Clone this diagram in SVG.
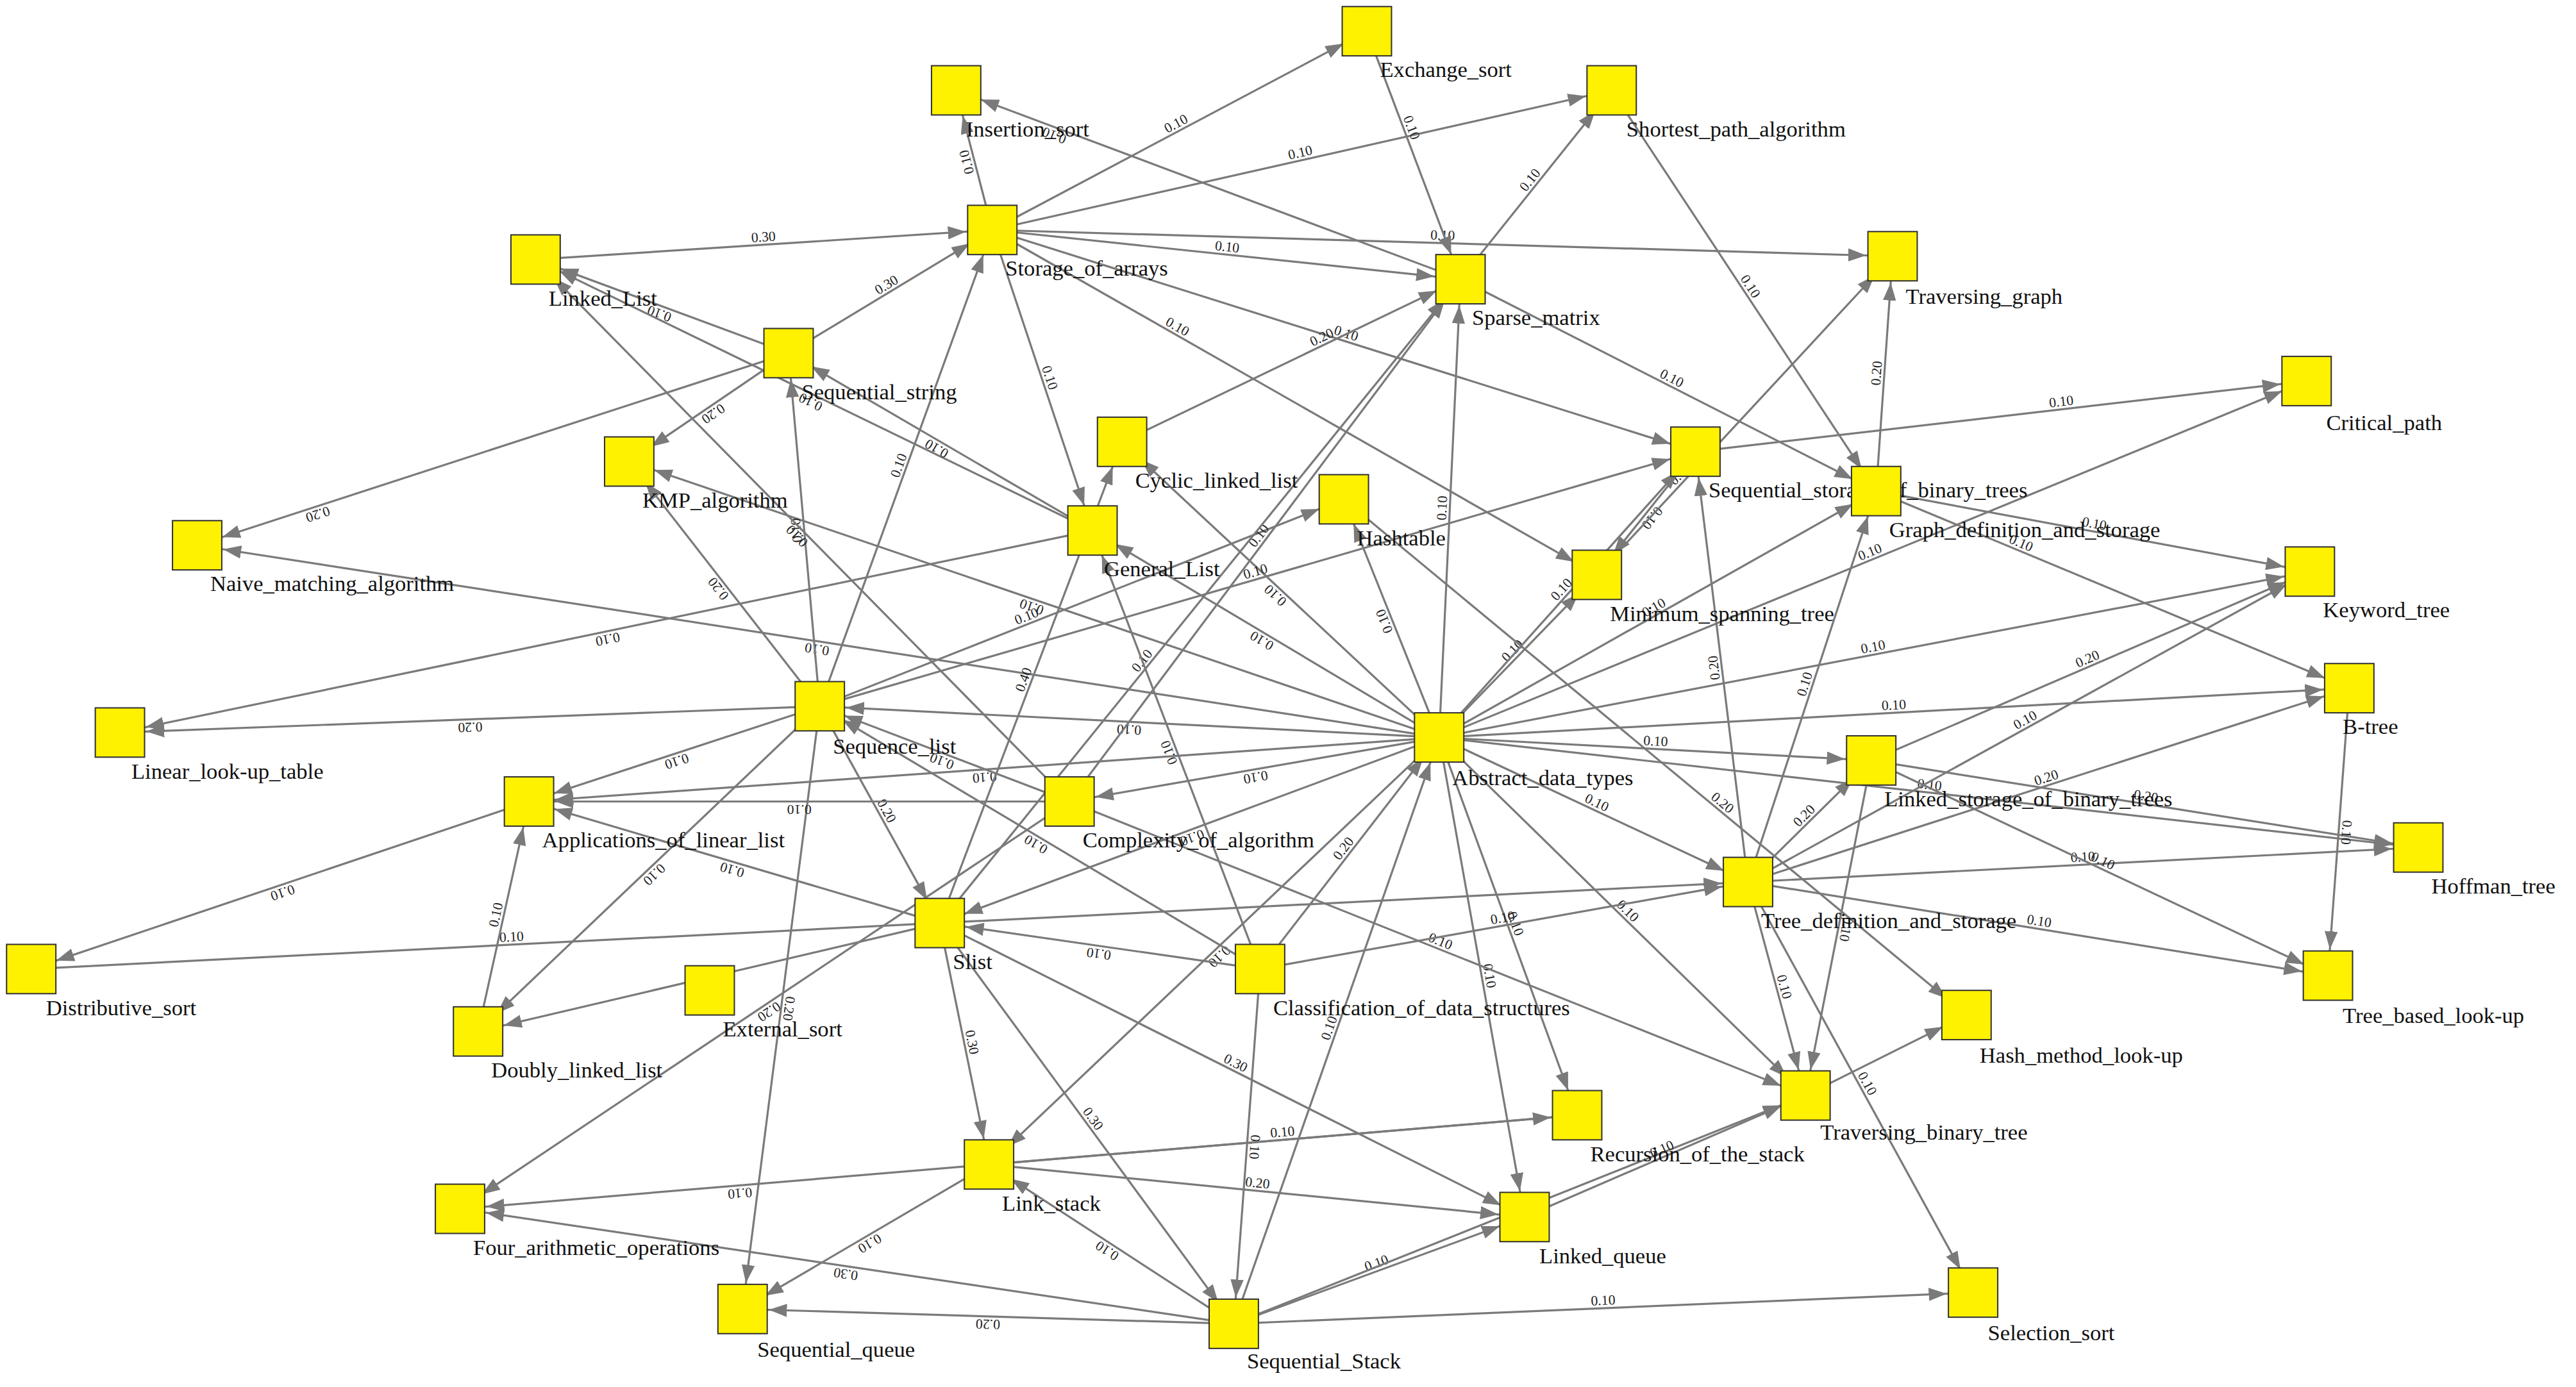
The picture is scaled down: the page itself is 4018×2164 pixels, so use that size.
<svg xmlns="http://www.w3.org/2000/svg" xmlns:xlink="http://www.w3.org/1999/xlink" width="4018" height="2164" viewBox="0 0 4018 2164">
<style>
.e{stroke:#7a7a7a;stroke-width:1.25;fill:none;marker-end:url(#ah)}
.el{font-family:"Liberation Serif",serif;font-size:8.5px;fill:#222}
.n rect{fill:#fff200;stroke:#333;stroke-width:0.8}
.n text{font-family:"Liberation Serif",serif;font-size:13.5px;fill:#111}
</style>
<defs>
<marker id="ah" markerUnits="userSpaceOnUse" markerWidth="12" markerHeight="8" refX="27" refY="4" orient="auto"><path d="M0,0 L11,4 L0,8 z" fill="#7a7a7a"/></marker>
</defs>
<rect width="4018" height="2164" fill="#fff"/>
<g transform="scale(2.5625)">
<g id="connectors">
<path id="p1" class="e" d="M604 140 L832 19"/><text class="el" dy="-2"><textPath href="#p1" xlink:href="#p1" startOffset="50%" text-anchor="middle">0.10</textPath></text>
<path id="p2" class="e" d="M604 140 L582 55"/><text class="el" dy="-2"><textPath href="#p2" xlink:href="#p2" startOffset="50%" text-anchor="middle">0.10</textPath></text>
<path id="p3" class="e" d="M604 140 L981 55"/><text class="el" dy="-2"><textPath href="#p3" xlink:href="#p3" startOffset="50%" text-anchor="middle">0.10</textPath></text>
<path id="p4" class="e" d="M604 140 L1152 156"/><text class="el" dy="-2"><textPath href="#p4" xlink:href="#p4" startOffset="50%" text-anchor="middle">0.10</textPath></text>
<path id="p5" class="e" d="M604 140 L889 170"/><text class="el" dy="-2"><textPath href="#p5" xlink:href="#p5" startOffset="50%" text-anchor="middle">0.10</textPath></text>
<path id="p6" class="e" d="M326 158 L604 140"/><text class="el" dy="-2"><textPath href="#p6" xlink:href="#p6" startOffset="50%" text-anchor="middle">0.30</textPath></text>
<path id="p7" class="e" d="M480 215 L604 140"/><text class="el" dy="-2"><textPath href="#p7" xlink:href="#p7" startOffset="50%" text-anchor="middle">0.30</textPath></text>
<path id="p8" class="e" d="M480 215 L326 158"/><text class="el" dy="-2"><textPath href="#p8" xlink:href="#p8" startOffset="50%" text-anchor="middle">0.10</textPath></text>
<path id="p9" class="e" d="M480 215 L383 281"/><text class="el" dy="-2"><textPath href="#p9" xlink:href="#p9" startOffset="50%" text-anchor="middle">0.20</textPath></text>
<path id="p10" class="e" d="M480 215 L120 332"/><text class="el" dy="-2"><textPath href="#p10" xlink:href="#p10" startOffset="80%" text-anchor="middle">0.20</textPath></text>
<path id="p11" class="e" d="M889 170 L582 55"/><text class="el" dy="-2"><textPath href="#p11" xlink:href="#p11" startOffset="80%" text-anchor="middle">0.10</textPath></text>
<path id="p12" class="e" d="M889 170 L981 55"/><text class="el" dy="-2"><textPath href="#p12" xlink:href="#p12" startOffset="50%" text-anchor="middle">0.10</textPath></text>
<path id="p13" class="e" d="M832 19 L889 170"/><text class="el" dy="-2"><textPath href="#p13" xlink:href="#p13" startOffset="40%" text-anchor="middle">0.10</textPath></text>
<path id="p14" class="e" d="M981 55 L1142 299"/><text class="el" dy="-2"><textPath href="#p14" xlink:href="#p14" startOffset="50%" text-anchor="middle">0.10</textPath></text>
<path id="p15" class="e" d="M1142 299 L1152 156"/><text class="el" dy="-2"><textPath href="#p15" xlink:href="#p15" startOffset="50%" text-anchor="middle">0.20</textPath></text>
<path id="p16" class="e" d="M604 140 L1032 275"/><text class="el" dy="-2"><textPath href="#p16" xlink:href="#p16" startOffset="50%" text-anchor="middle">0.10</textPath></text>
<path id="p17" class="e" d="M604 140 L972 350"/><text class="el" dy="-2"><textPath href="#p17" xlink:href="#p17" startOffset="30%" text-anchor="middle">0.10</textPath></text>
<path id="p18" class="e" d="M604 140 L665 323"/><text class="el" dy="-2"><textPath href="#p18" xlink:href="#p18" startOffset="50%" text-anchor="middle">0.10</textPath></text>
<path id="p19" class="e" d="M889 170 L1142 299"/><text class="el" dy="-2"><textPath href="#p19" xlink:href="#p19" startOffset="50%" text-anchor="middle">0.10</textPath></text>
<path id="p20" class="e" d="M683 269 L889 170"/><text class="el" dy="-2"><textPath href="#p20" xlink:href="#p20" startOffset="60%" text-anchor="middle">0.20</textPath></text>
<path id="p21" class="e" d="M1032 275 L1404 232"/><text class="el" dy="-2"><textPath href="#p21" xlink:href="#p21" startOffset="60%" text-anchor="middle">0.10</textPath></text>
<path id="p22" class="e" d="M1142 299 L1406 348"/><text class="el" dy="-2"><textPath href="#p22" xlink:href="#p22" startOffset="50%" text-anchor="middle">0.10</textPath></text>
<path id="p23" class="e" d="M1142 299 L1430 419"/><text class="el" dy="-2"><textPath href="#p23" xlink:href="#p23" startOffset="30%" text-anchor="middle">0.10</textPath></text>
<path id="p24" class="e" d="M1032 275 L972 350"/><text class="el" dy="-2"><textPath href="#p24" xlink:href="#p24" startOffset="50%" text-anchor="middle">0.10</textPath></text>
<path id="p25" class="e" d="M972 350 L1152 156"/><text class="el" dy="-2"><textPath href="#p25" xlink:href="#p25" startOffset="30%" text-anchor="middle">0.10</textPath></text>
<path id="p26" class="e" d="M876 449 L889 170"/><text class="el" dy="-2"><textPath href="#p26" xlink:href="#p26" startOffset="50%" text-anchor="middle">0.10</textPath></text>
<path id="p27" class="e" d="M876 449 L499 430"/><text class="el" dy="-2"><textPath href="#p27" xlink:href="#p27" startOffset="50%" text-anchor="middle">0.10</textPath></text>
<path id="p28" class="e" d="M876 449 L120 332"/><text class="el" dy="-2"><textPath href="#p28" xlink:href="#p28" startOffset="50%" text-anchor="middle">0.10</textPath></text>
<path id="p29" class="e" d="M876 449 L322 488"/><text class="el" dy="-2"><textPath href="#p29" xlink:href="#p29" startOffset="50%" text-anchor="middle">0.10</textPath></text>
<path id="p30" class="e" d="M876 449 L651 488"/><text class="el" dy="-2"><textPath href="#p30" xlink:href="#p30" startOffset="50%" text-anchor="middle">0.10</textPath></text>
<path id="p31" class="e" d="M876 449 L572 562"/><text class="el" dy="-2"><textPath href="#p31" xlink:href="#p31" startOffset="50%" text-anchor="middle">0.10</textPath></text>
<path id="p32" class="e" d="M876 449 L602 709"/><text class="el" dy="-2"><textPath href="#p32" xlink:href="#p32" startOffset="50%" text-anchor="middle">0.10</textPath></text>
<path id="p33" class="e" d="M876 449 L928 741"/><text class="el" dy="-2"><textPath href="#p33" xlink:href="#p33" startOffset="50%" text-anchor="middle">0.10</textPath></text>
<path id="p34" class="e" d="M876 449 L1099 667"/><text class="el" dy="-2"><textPath href="#p34" xlink:href="#p34" startOffset="50%" text-anchor="middle">0.10</textPath></text>
<path id="p35" class="e" d="M876 449 L1064 537"/><text class="el" dy="-2"><textPath href="#p35" xlink:href="#p35" startOffset="50%" text-anchor="middle">0.10</textPath></text>
<path id="p36" class="e" d="M876 449 L1139 463"/><text class="el" dy="-2"><textPath href="#p36" xlink:href="#p36" startOffset="50%" text-anchor="middle">0.10</textPath></text>
<path id="p37" class="e" d="M876 449 L1430 419"/><text class="el" dy="-2"><textPath href="#p37" xlink:href="#p37" startOffset="50%" text-anchor="middle">0.10</textPath></text>
<path id="p38" class="e" d="M876 449 L1406 348"/><text class="el" dy="-2"><textPath href="#p38" xlink:href="#p38" startOffset="50%" text-anchor="middle">0.10</textPath></text>
<path id="p39" class="e" d="M876 449 L1404 232"/><text class="el" dy="-2"><textPath href="#p39" xlink:href="#p39" startOffset="50%" text-anchor="middle">0.10</textPath></text>
<path id="p40" class="e" d="M876 449 L1142 299"/><text class="el" dy="-2"><textPath href="#p40" xlink:href="#p40" startOffset="50%" text-anchor="middle">0.10</textPath></text>
<path id="p41" class="e" d="M876 449 L972 350"/><text class="el" dy="-2"><textPath href="#p41" xlink:href="#p41" startOffset="50%" text-anchor="middle">0.10</textPath></text>
<path id="p42" class="e" d="M876 449 L818 304"/><text class="el" dy="-2"><textPath href="#p42" xlink:href="#p42" startOffset="50%" text-anchor="middle">0.10</textPath></text>
<path id="p43" class="e" d="M876 449 L665 323"/><text class="el" dy="-2"><textPath href="#p43" xlink:href="#p43" startOffset="50%" text-anchor="middle">0.10</textPath></text>
<path id="p44" class="e" d="M876 449 L683 269"/><text class="el" dy="-2"><textPath href="#p44" xlink:href="#p44" startOffset="50%" text-anchor="middle">0.10</textPath></text>
<path id="p45" class="e" d="M876 449 L383 281"/><text class="el" dy="-2"><textPath href="#p45" xlink:href="#p45" startOffset="50%" text-anchor="middle">0.10</textPath></text>
<path id="p46" class="e" d="M876 449 L1472 516"/><text class="el" dy="-2"><textPath href="#p46" xlink:href="#p46" startOffset="50%" text-anchor="middle">0.10</textPath></text>
<path id="p47" class="e" d="M876 449 L960 679"/><text class="el" dy="-2"><textPath href="#p47" xlink:href="#p47" startOffset="50%" text-anchor="middle">0.10</textPath></text>
<path id="p48" class="e" d="M876 449 L1032 275"/><text class="el" dy="-2"><textPath href="#p48" xlink:href="#p48" startOffset="50%" text-anchor="middle">0.10</textPath></text>
<path id="p49" class="e" d="M499 430 L73 446"/><text class="el" dy="-2"><textPath href="#p49" xlink:href="#p49" startOffset="50%" text-anchor="middle">0.20</textPath></text>
<path id="p50" class="e" d="M499 430 L322 488"/><text class="el" dy="-2"><textPath href="#p50" xlink:href="#p50" startOffset="50%" text-anchor="middle">0.10</textPath></text>
<path id="p51" class="e" d="M499 430 L572 562"/><text class="el" dy="-2"><textPath href="#p51" xlink:href="#p51" startOffset="50%" text-anchor="middle">0.20</textPath></text>
<path id="p52" class="e" d="M499 430 L291 628"/><text class="el" dy="-2"><textPath href="#p52" xlink:href="#p52" startOffset="50%" text-anchor="middle">0.10</textPath></text>
<path id="p53" class="e" d="M499 430 L452 797"/><text class="el" dy="-2"><textPath href="#p53" xlink:href="#p53" startOffset="50%" text-anchor="middle">0.20</textPath></text>
<path id="p54" class="e" d="M499 430 L383 281"/><text class="el" dy="-2"><textPath href="#p54" xlink:href="#p54" startOffset="50%" text-anchor="middle">0.20</textPath></text>
<path id="p55" class="e" d="M499 430 L480 215"/><text class="el" dy="-2"><textPath href="#p55" xlink:href="#p55" startOffset="50%" text-anchor="middle">0.10</textPath></text>
<path id="p56" class="e" d="M499 430 L604 140"/><text class="el" dy="-2"><textPath href="#p56" xlink:href="#p56" startOffset="50%" text-anchor="middle">0.10</textPath></text>
<path id="p57" class="e" d="M499 430 L1032 275"/><text class="el" dy="-2"><textPath href="#p57" xlink:href="#p57" startOffset="50%" text-anchor="middle">0.10</textPath></text>
<path id="p58" class="e" d="M499 430 L818 304"/><text class="el" dy="-2"><textPath href="#p58" xlink:href="#p58" startOffset="40%" text-anchor="middle">0.10</textPath></text>
<path id="p59" class="e" d="M665 323 L73 446"/><text class="el" dy="-2"><textPath href="#p59" xlink:href="#p59" startOffset="50%" text-anchor="middle">0.10</textPath></text>
<path id="p60" class="e" d="M665 323 L326 158"/><text class="el" dy="-2"><textPath href="#p60" xlink:href="#p60" startOffset="50%" text-anchor="middle">0.10</textPath></text>
<path id="p61" class="e" d="M665 323 L480 215"/><text class="el" dy="-2"><textPath href="#p61" xlink:href="#p61" startOffset="50%" text-anchor="middle">0.10</textPath></text>
<path id="p62" class="e" d="M651 488 L499 430"/><text class="el" dy="-2"><textPath href="#p62" xlink:href="#p62" startOffset="50%" text-anchor="middle">0.10</textPath></text>
<path id="p63" class="e" d="M651 488 L322 488"/><text class="el" dy="-2"><textPath href="#p63" xlink:href="#p63" startOffset="50%" text-anchor="middle">0.10</textPath></text>
<path id="p64" class="e" d="M651 488 L326 158"/><text class="el" dy="-2"><textPath href="#p64" xlink:href="#p64" startOffset="50%" text-anchor="middle">0.10</textPath></text>
<path id="p65" class="e" d="M651 488 L889 170"/><text class="el" dy="-2"><textPath href="#p65" xlink:href="#p65" startOffset="50%" text-anchor="middle">0.10</textPath></text>
<path id="p66" class="e" d="M651 488 L1099 667"/><text class="el" dy="-2"><textPath href="#p66" xlink:href="#p66" startOffset="50%" text-anchor="middle">0.10</textPath></text>
<path id="p67" class="e" d="M651 488 L280 736"/><text class="el" dy="-2"><textPath href="#p67" xlink:href="#p67" startOffset="50%" text-anchor="middle">0.20</textPath></text>
<path id="p68" class="e" d="M572 562 L322 488"/><text class="el" dy="-2"><textPath href="#p68" xlink:href="#p68" startOffset="50%" text-anchor="middle">0.10</textPath></text>
<path id="p69" class="e" d="M19 590 L1064 537"/><text class="el" dy="-2"><textPath href="#p69" xlink:href="#p69" startOffset="28%" text-anchor="middle">0.10</textPath></text>
<path id="p70" class="e" d="M322 488 L19 590"/><text class="el" dy="-2"><textPath href="#p70" xlink:href="#p70" startOffset="50%" text-anchor="middle">0.10</textPath></text>
<path id="p71" class="e" d="M291 628 L322 488"/><text class="el" dy="-2"><textPath href="#p71" xlink:href="#p71" startOffset="50%" text-anchor="middle">0.10</textPath></text>
<path id="p72" class="e" d="M572 562 L291 628"/><text class="el" dy="-2"><textPath href="#p72" xlink:href="#p72" startOffset="50%" text-anchor="middle">0.10</textPath></text>
<path id="p73" class="e" d="M572 562 L602 709"/><text class="el" dy="-2"><textPath href="#p73" xlink:href="#p73" startOffset="50%" text-anchor="middle">0.30</textPath></text>
<path id="p74" class="e" d="M572 562 L751 806"/><text class="el" dy="-2"><textPath href="#p74" xlink:href="#p74" startOffset="50%" text-anchor="middle">0.30</textPath></text>
<path id="p75" class="e" d="M572 562 L928 741"/><text class="el" dy="-2"><textPath href="#p75" xlink:href="#p75" startOffset="50%" text-anchor="middle">0.30</textPath></text>
<path id="p76" class="e" d="M572 562 L889 170"/><text class="el" dy="-2"><textPath href="#p76" xlink:href="#p76" startOffset="40%" text-anchor="middle">0.10</textPath></text>
<path id="p77" class="e" d="M572 562 L683 269"/><text class="el" dy="-2"><textPath href="#p77" xlink:href="#p77" startOffset="50%" text-anchor="middle">0.40</textPath></text>
<path id="p78" class="e" d="M767 590 L572 562"/><text class="el" dy="-2"><textPath href="#p78" xlink:href="#p78" startOffset="50%" text-anchor="middle">0.10</textPath></text>
<path id="p79" class="e" d="M767 590 L499 430"/><text class="el" dy="-2"><textPath href="#p79" xlink:href="#p79" startOffset="50%" text-anchor="middle">0.10</textPath></text>
<path id="p80" class="e" d="M767 590 L751 806"/><text class="el" dy="-2"><textPath href="#p80" xlink:href="#p80" startOffset="50%" text-anchor="middle">0.10</textPath></text>
<path id="p81" class="e" d="M767 590 L1064 537"/><text class="el" dy="-2"><textPath href="#p81" xlink:href="#p81" startOffset="50%" text-anchor="middle">0.10</textPath></text>
<path id="p82" class="e" d="M767 590 L665 323"/><text class="el" dy="-2"><textPath href="#p82" xlink:href="#p82" startOffset="50%" text-anchor="middle">0.10</textPath></text>
<path id="p83" class="e" d="M767 590 L876 449"/><text class="el" dy="-2"><textPath href="#p83" xlink:href="#p83" startOffset="50%" text-anchor="middle">0.20</textPath></text>
<path id="p84" class="e" d="M602 709 L960 679"/><text class="el" dy="-2"><textPath href="#p84" xlink:href="#p84" startOffset="50%" text-anchor="middle">0.10</textPath></text>
<path id="p85" class="e" d="M602 709 L928 741"/><text class="el" dy="-2"><textPath href="#p85" xlink:href="#p85" startOffset="50%" text-anchor="middle">0.20</textPath></text>
<path id="p86" class="e" d="M602 709 L452 797"/><text class="el" dy="-2"><textPath href="#p86" xlink:href="#p86" startOffset="50%" text-anchor="middle">0.10</textPath></text>
<path id="p87" class="e" d="M960 679 L280 736"/><text class="el" dy="-2"><textPath href="#p87" xlink:href="#p87" startOffset="75%" text-anchor="middle">0.10</textPath></text>
<path id="p88" class="e" d="M751 806 L280 736"/><text class="el" dy="-2"><textPath href="#p88" xlink:href="#p88" startOffset="50%" text-anchor="middle">0.30</textPath></text>
<path id="p89" class="e" d="M751 806 L452 797"/><text class="el" dy="-2"><textPath href="#p89" xlink:href="#p89" startOffset="50%" text-anchor="middle">0.20</textPath></text>
<path id="p90" class="e" d="M751 806 L602 709"/><text class="el" dy="-2"><textPath href="#p90" xlink:href="#p90" startOffset="50%" text-anchor="middle">0.10</textPath></text>
<path id="p91" class="e" d="M751 806 L928 741"/><text class="el" dy="-2"><textPath href="#p91" xlink:href="#p91" startOffset="50%" text-anchor="middle">0.10</textPath></text>
<path id="p92" class="e" d="M751 806 L1099 667"/><text class="el" dy="-2"><textPath href="#p92" xlink:href="#p92" startOffset="50%" text-anchor="middle">0.10</textPath></text>
<path id="p93" class="e" d="M751 806 L1201 787"/><text class="el" dy="-2"><textPath href="#p93" xlink:href="#p93" startOffset="50%" text-anchor="middle">0.10</textPath></text>
<path id="p94" class="e" d="M751 806 L876 449"/><text class="el" dy="-2"><textPath href="#p94" xlink:href="#p94" startOffset="50%" text-anchor="middle">0.10</textPath></text>
<path id="p95" class="e" d="M1064 537 L1201 787"/><text class="el" dy="-2"><textPath href="#p95" xlink:href="#p95" startOffset="50%" text-anchor="middle">0.10</textPath></text>
<path id="p96" class="e" d="M1064 537 L1099 667"/><text class="el" dy="-2"><textPath href="#p96" xlink:href="#p96" startOffset="50%" text-anchor="middle">0.10</textPath></text>
<path id="p97" class="e" d="M1064 537 L1139 463"/><text class="el" dy="-2"><textPath href="#p97" xlink:href="#p97" startOffset="50%" text-anchor="middle">0.20</textPath></text>
<path id="p98" class="e" d="M1064 537 L1032 275"/><text class="el" dy="-2"><textPath href="#p98" xlink:href="#p98" startOffset="50%" text-anchor="middle">0.20</textPath></text>
<path id="p99" class="e" d="M1064 537 L1142 299"/><text class="el" dy="-2"><textPath href="#p99" xlink:href="#p99" startOffset="50%" text-anchor="middle">0.10</textPath></text>
<path id="p100" class="e" d="M1064 537 L1406 348"/><text class="el" dy="-2"><textPath href="#p100" xlink:href="#p100" startOffset="50%" text-anchor="middle">0.10</textPath></text>
<path id="p101" class="e" d="M1064 537 L1430 419"/><text class="el" dy="-2"><textPath href="#p101" xlink:href="#p101" startOffset="50%" text-anchor="middle">0.20</textPath></text>
<path id="p102" class="e" d="M1064 537 L1472 516"/><text class="el" dy="-2"><textPath href="#p102" xlink:href="#p102" startOffset="50%" text-anchor="middle">0.10</textPath></text>
<path id="p103" class="e" d="M1064 537 L1417 594"/><text class="el" dy="-2"><textPath href="#p103" xlink:href="#p103" startOffset="50%" text-anchor="middle">0.10</textPath></text>
<path id="p104" class="e" d="M1139 463 L1417 594"/><text class="el" dy="-2"><textPath href="#p104" xlink:href="#p104" startOffset="50%" text-anchor="middle">0.10</textPath></text>
<path id="p105" class="e" d="M1139 463 L1472 516"/><text class="el" dy="-2"><textPath href="#p105" xlink:href="#p105" startOffset="50%" text-anchor="middle">0.20</textPath></text>
<path id="p106" class="e" d="M1139 463 L1406 348"/><text class="el" dy="-2"><textPath href="#p106" xlink:href="#p106" startOffset="50%" text-anchor="middle">0.20</textPath></text>
<path id="p107" class="e" d="M1139 463 L1099 667"/><text class="el" dy="-2"><textPath href="#p107" xlink:href="#p107" startOffset="50%" text-anchor="middle">0.10</textPath></text>
<path id="p108" class="e" d="M1430 419 L1417 594"/><text class="el" dy="-2"><textPath href="#p108" xlink:href="#p108" startOffset="50%" text-anchor="middle">0.10</textPath></text>
<path id="p109" class="e" d="M1099 667 L1197 618"/><text class="el" dy="-2"><textPath href="#p109" xlink:href="#p109" startOffset="50%" text-anchor="middle"></textPath></text>
<path id="p110" class="e" d="M928 741 L1099 667"/><text class="el" dy="-2"><textPath href="#p110" xlink:href="#p110" startOffset="50%" text-anchor="middle">0.10</textPath></text>
<path id="p111" class="e" d="M818 304 L1197 618"/><text class="el" dy="-2"><textPath href="#p111" xlink:href="#p111" startOffset="60%" text-anchor="middle">0.20</textPath></text>
</g>
<g id="n_ES" class="n"><rect x="817" y="4" width="30" height="30"/><text x="840" y="47">Exchange_sort</text></g>
<g id="n_IS" class="n"><rect x="567" y="40" width="30" height="30"/><text x="588" y="83">Insertion_sort</text></g>
<g id="n_SP" class="n"><rect x="966" y="40" width="30" height="30"/><text x="990" y="83">Shortest_path_algorithm</text></g>
<g id="n_SA" class="n"><rect x="589" y="125" width="30" height="30"/><text x="612" y="168">Storage_of_arrays</text></g>
<g id="n_LL" class="n"><rect x="311" y="143" width="30" height="30"/><text x="334" y="186">Linked_List</text></g>
<g id="n_TG" class="n"><rect x="1137" y="141" width="30" height="30"/><text x="1160" y="185">Traversing_graph</text></g>
<g id="n_SM" class="n"><rect x="874" y="155" width="30" height="30"/><text x="896" y="198">Sparse_matrix</text></g>
<g id="n_SS" class="n"><rect x="465" y="200" width="30" height="30"/><text x="488" y="243">Sequential_string</text></g>
<g id="n_KMP" class="n"><rect x="368" y="266" width="30" height="30"/><text x="391" y="309">KMP_algorithm</text></g>
<g id="n_NM" class="n"><rect x="105" y="317" width="30" height="30"/><text x="128" y="360">Naive_matching_algorithm</text></g>
<g id="n_CL" class="n"><rect x="668" y="254" width="30" height="30"/><text x="691" y="297">Cyclic_linked_list</text></g>
<g id="n_HT" class="n"><rect x="803" y="289" width="30" height="30"/><text x="826" y="332">Hashtable</text></g>
<g id="n_GL" class="n"><rect x="650" y="308" width="30" height="30"/><text x="672" y="351">General_List</text></g>
<g id="n_SSB" class="n"><rect x="1017" y="260" width="30" height="30"/><text x="1040" y="303">Sequential_storage_of_binary_trees</text></g>
<g id="n_GD" class="n"><rect x="1127" y="284" width="30" height="30"/><text x="1150" y="327">Graph_definition_and_storage</text></g>
<g id="n_CP" class="n"><rect x="1389" y="217" width="30" height="30"/><text x="1416" y="262">Critical_path</text></g>
<g id="n_KT" class="n"><rect x="1391" y="333" width="30" height="30"/><text x="1414" y="376">Keyword_tree</text></g>
<g id="n_MST" class="n"><rect x="957" y="335" width="30" height="30"/><text x="980" y="378">Minimum_spanning_tree</text></g>
<g id="n_BT" class="n"><rect x="1415" y="404" width="30" height="30"/><text x="1426" y="447">B-tree</text></g>
<g id="n_LT" class="n"><rect x="58" y="431" width="30" height="30"/><text x="80" y="474">Linear_look-up_table</text></g>
<g id="n_SL" class="n"><rect x="484" y="415" width="30" height="30"/><text x="507" y="459">Sequence_list</text></g>
<g id="n_ADT" class="n"><rect x="861" y="434" width="30" height="30"/><text x="884" y="478">Abstract_data_types</text></g>
<g id="n_LSB" class="n"><rect x="1124" y="448" width="30" height="30"/><text x="1147" y="491">Linked_storage_of_binary_trees</text></g>
<g id="n_AL" class="n"><rect x="307" y="473" width="30" height="30"/><text x="330" y="516">Applications_of_linear_list</text></g>
<g id="n_CA" class="n"><rect x="636" y="473" width="30" height="30"/><text x="659" y="516">Complexity_of_algorithm</text></g>
<g id="n_HF" class="n"><rect x="1457" y="501" width="30" height="30"/><text x="1480" y="544">Hoffman_tree</text></g>
<g id="n_TD" class="n"><rect x="1049" y="522" width="30" height="30"/><text x="1072" y="565">Tree_definition_and_storage</text></g>
<g id="n_DS" class="n"><rect x="4" y="575" width="30" height="30"/><text x="28" y="618">Distributive_sort</text></g>
<g id="n_SLI" class="n"><rect x="557" y="547" width="30" height="30"/><text x="580" y="590">Slist</text></g>
<g id="n_CDS" class="n"><rect x="752" y="575" width="30" height="30"/><text x="775" y="618">Classification_of_data_structures</text></g>
<g id="n_TB" class="n"><rect x="1402" y="579" width="30" height="30"/><text x="1426" y="623">Tree_based_look-up</text></g>
<g id="n_EX" class="n"><rect x="417" y="588" width="30" height="30"/><text x="440" y="631">External_sort</text></g>
<g id="n_DL" class="n"><rect x="276" y="613" width="30" height="30"/><text x="299" y="656">Doubly_linked_list</text></g>
<g id="n_HM" class="n"><rect x="1182" y="603" width="30" height="30"/><text x="1205" y="647">Hash_method_look-up</text></g>
<g id="n_TBT" class="n"><rect x="1084" y="652" width="30" height="30"/><text x="1108" y="694">Traversing_binary_tree</text></g>
<g id="n_RS" class="n"><rect x="945" y="664" width="30" height="30"/><text x="968" y="707">Recursion_of_the_stack</text></g>
<g id="n_LS" class="n"><rect x="587" y="694" width="30" height="30"/><text x="610" y="737">Link_stack</text></g>
<g id="n_FA" class="n"><rect x="265" y="721" width="30" height="30"/><text x="288" y="764">Four_arithmetic_operations</text></g>
<g id="n_LQ" class="n"><rect x="913" y="726" width="30" height="30"/><text x="937" y="769">Linked_queue</text></g>
<g id="n_SQ" class="n"><rect x="437" y="782" width="30" height="30"/><text x="461" y="826">Sequential_queue</text></g>
<g id="n_SST" class="n"><rect x="736" y="791" width="30" height="30"/><text x="759" y="833">Sequential_Stack</text></g>
<g id="n_SEL" class="n"><rect x="1186" y="772" width="30" height="30"/><text x="1210" y="816">Selection_sort</text></g>
</g>
</svg>
